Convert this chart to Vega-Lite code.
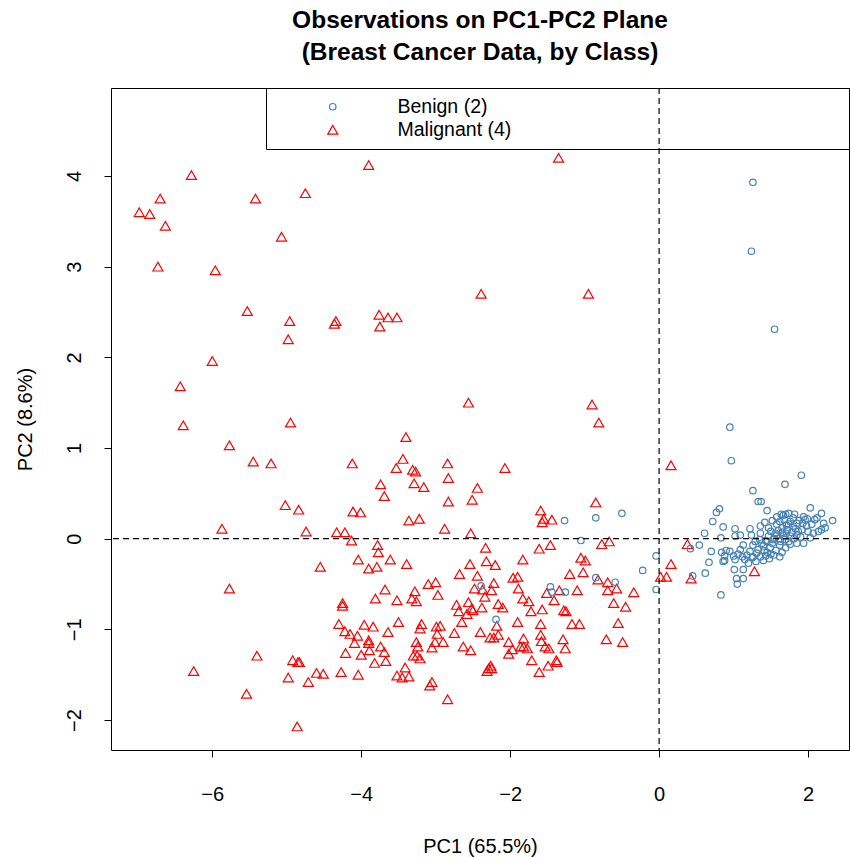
{
"$schema": "https://vega.github.io/schema/vega-lite/v6.json",
"autosize": {"type": "none"},
"width": 738, "height": 662,
"padding": {"left": 111, "top": 88, "right": 1, "bottom": 107},
"background": "white",
"config": {
 "font": "Liberation Sans",
 "view": {"stroke": "black", "strokeWidth": 1},
 "axis": {"grid": false, "domain": false, "tickColor": "black", "tickSize": 7, "labelColor": "black", "labelFontSize": 20, "labelFont": "Liberation Sans", "titleFont": "Liberation Sans", "titleFontSize": 20, "titleFontWeight": "normal", "titleColor": "black", "format": "d"},
 "legend": {"orient": "none", "legendX": 155, "legendY": 0, "fillColor": "transparent", "strokeColor": "black", "padding": 9, "labelFontSize": 19.5, "labelFont": "Liberation Sans", "labelColor": "black", "symbolOffset": 48, "labelOffset": 55, "labelLimit": 2000, "rowPadding": 2, "symbolStrokeWidth": 1.2}
},
"title": {"text": ["Observations on PC1-PC2 Plane", "(Breast Cancer Data, by Class)"], "fontSize": 24.5, "font": "Liberation Sans", "fontWeight": "bold", "anchor": "middle", "offset": 22, "lineHeight": 32, "color": "black"},
"layer": [
 {
  "data": {"values": [
{"pc1":-3.90,"pc2":4.12,"cls":"Malignant (4)"},
{"pc1":-6.28,"pc2":4.01,"cls":"Malignant (4)"},
{"pc1":-6.70,"pc2":3.75,"cls":"Malignant (4)"},
{"pc1":-5.42,"pc2":3.75,"cls":"Malignant (4)"},
{"pc1":-4.75,"pc2":3.81,"cls":"Malignant (4)"},
{"pc1":-6.98,"pc2":3.60,"cls":"Malignant (4)"},
{"pc1":-6.84,"pc2":3.58,"cls":"Malignant (4)"},
{"pc1":-6.63,"pc2":3.45,"cls":"Malignant (4)"},
{"pc1":-5.07,"pc2":3.33,"cls":"Malignant (4)"},
{"pc1":-6.73,"pc2":3.00,"cls":"Malignant (4)"},
{"pc1":-5.96,"pc2":2.96,"cls":"Malignant (4)"},
{"pc1":-5.53,"pc2":2.51,"cls":"Malignant (4)"},
{"pc1":-4.96,"pc2":2.40,"cls":"Malignant (4)"},
{"pc1":-4.98,"pc2":2.20,"cls":"Malignant (4)"},
{"pc1":-4.34,"pc2":2.40,"cls":"Malignant (4)"},
{"pc1":-4.36,"pc2":2.37,"cls":"Malignant (4)"},
{"pc1":-3.76,"pc2":2.47,"cls":"Malignant (4)"},
{"pc1":-3.64,"pc2":2.44,"cls":"Malignant (4)"},
{"pc1":-3.52,"pc2":2.44,"cls":"Malignant (4)"},
{"pc1":-3.75,"pc2":2.34,"cls":"Malignant (4)"},
{"pc1":-6.00,"pc2":1.96,"cls":"Malignant (4)"},
{"pc1":-6.43,"pc2":1.68,"cls":"Malignant (4)"},
{"pc1":-6.39,"pc2":1.25,"cls":"Malignant (4)"},
{"pc1":-4.95,"pc2":1.28,"cls":"Malignant (4)"},
{"pc1":-5.77,"pc2":1.03,"cls":"Malignant (4)"},
{"pc1":-3.40,"pc2":1.12,"cls":"Malignant (4)"},
{"pc1":-1.35,"pc2":4.20,"cls":"Malignant (4)"},
{"pc1":-2.39,"pc2":2.70,"cls":"Malignant (4)"},
{"pc1":-0.95,"pc2":2.70,"cls":"Malignant (4)"},
{"pc1":-2.56,"pc2":1.50,"cls":"Malignant (4)"},
{"pc1":-0.90,"pc2":1.48,"cls":"Malignant (4)"},
{"pc1":-0.81,"pc2":1.28,"cls":"Malignant (4)"},
{"pc1":-5.45,"pc2":0.85,"cls":"Malignant (4)"},
{"pc1":-5.21,"pc2":0.83,"cls":"Malignant (4)"},
{"pc1":-5.02,"pc2":0.37,"cls":"Malignant (4)"},
{"pc1":-4.84,"pc2":0.32,"cls":"Malignant (4)"},
{"pc1":-5.87,"pc2":0.11,"cls":"Malignant (4)"},
{"pc1":-4.74,"pc2":0.08,"cls":"Malignant (4)"},
{"pc1":-5.77,"pc2":-0.55,"cls":"Malignant (4)"},
{"pc1":-5.40,"pc2":-1.29,"cls":"Malignant (4)"},
{"pc1":-6.25,"pc2":-1.46,"cls":"Malignant (4)"},
{"pc1":-4.92,"pc2":-1.34,"cls":"Malignant (4)"},
{"pc1":-4.85,"pc2":-1.36,"cls":"Malignant (4)"},
{"pc1":-4.83,"pc2":-1.36,"cls":"Malignant (4)"},
{"pc1":-4.98,"pc2":-1.53,"cls":"Malignant (4)"},
{"pc1":-4.71,"pc2":-1.58,"cls":"Malignant (4)"},
{"pc1":-5.54,"pc2":-1.71,"cls":"Malignant (4)"},
{"pc1":-4.86,"pc2":-2.07,"cls":"Malignant (4)"},
{"pc1":-4.12,"pc2":0.83,"cls":"Malignant (4)"},
{"pc1":-3.44,"pc2":0.88,"cls":"Malignant (4)"},
{"pc1":-3.53,"pc2":0.78,"cls":"Malignant (4)"},
{"pc1":-3.31,"pc2":0.76,"cls":"Malignant (4)"},
{"pc1":-3.27,"pc2":0.74,"cls":"Malignant (4)"},
{"pc1":-2.84,"pc2":0.83,"cls":"Malignant (4)"},
{"pc1":-2.83,"pc2":0.67,"cls":"Malignant (4)"},
{"pc1":-3.74,"pc2":0.60,"cls":"Malignant (4)"},
{"pc1":-3.29,"pc2":0.61,"cls":"Malignant (4)"},
{"pc1":-3.16,"pc2":0.57,"cls":"Malignant (4)"},
{"pc1":-2.44,"pc2":0.56,"cls":"Malignant (4)"},
{"pc1":-3.69,"pc2":0.47,"cls":"Malignant (4)"},
{"pc1":-2.51,"pc2":0.43,"cls":"Malignant (4)"},
{"pc1":-2.83,"pc2":0.41,"cls":"Malignant (4)"},
{"pc1":-4.11,"pc2":0.30,"cls":"Malignant (4)"},
{"pc1":-4.01,"pc2":0.29,"cls":"Malignant (4)"},
{"pc1":-3.36,"pc2":0.20,"cls":"Malignant (4)"},
{"pc1":-3.22,"pc2":0.22,"cls":"Malignant (4)"},
{"pc1":-2.88,"pc2":0.11,"cls":"Malignant (4)"},
{"pc1":-4.33,"pc2":0.07,"cls":"Malignant (4)"},
{"pc1":-4.22,"pc2":0.07,"cls":"Malignant (4)"},
{"pc1":-2.53,"pc2":0.06,"cls":"Malignant (4)"},
{"pc1":-4.13,"pc2":-0.02,"cls":"Malignant (4)"},
{"pc1":-3.78,"pc2":-0.07,"cls":"Malignant (4)"},
{"pc1":-3.77,"pc2":-0.15,"cls":"Malignant (4)"},
{"pc1":-2.33,"pc2":-0.10,"cls":"Malignant (4)"},
{"pc1":-4.04,"pc2":-0.23,"cls":"Malignant (4)"},
{"pc1":-3.61,"pc2":-0.23,"cls":"Malignant (4)"},
{"pc1":-2.32,"pc2":-0.25,"cls":"Malignant (4)"},
{"pc1":-4.55,"pc2":-0.31,"cls":"Malignant (4)"},
{"pc1":-3.90,"pc2":-0.33,"cls":"Malignant (4)"},
{"pc1":-3.79,"pc2":-0.31,"cls":"Malignant (4)"},
{"pc1":-3.39,"pc2":-0.28,"cls":"Malignant (4)"},
{"pc1":-2.54,"pc2":-0.28,"cls":"Malignant (4)"},
{"pc1":-2.20,"pc2":-0.29,"cls":"Malignant (4)"},
{"pc1":-2.68,"pc2":-0.39,"cls":"Malignant (4)"},
{"pc1":-2.44,"pc2":-0.41,"cls":"Malignant (4)"},
{"pc1":-3.10,"pc2":-0.50,"cls":"Malignant (4)"},
{"pc1":-3.00,"pc2":-0.48,"cls":"Malignant (4)"},
{"pc1":-2.22,"pc2":-0.49,"cls":"Malignant (4)"},
{"pc1":-3.68,"pc2":-0.56,"cls":"Malignant (4)"},
{"pc1":-3.28,"pc2":-0.58,"cls":"Malignant (4)"},
{"pc1":-2.48,"pc2":-0.55,"cls":"Malignant (4)"},
{"pc1":-2.37,"pc2":-0.56,"cls":"Malignant (4)"},
{"pc1":-2.25,"pc2":-0.57,"cls":"Malignant (4)"},
{"pc1":-2.97,"pc2":-0.62,"cls":"Malignant (4)"},
{"pc1":-4.25,"pc2":-0.71,"cls":"Malignant (4)"},
{"pc1":-4.25,"pc2":-0.74,"cls":"Malignant (4)"},
{"pc1":-3.81,"pc2":-0.66,"cls":"Malignant (4)"},
{"pc1":-3.52,"pc2":-0.68,"cls":"Malignant (4)"},
{"pc1":-3.32,"pc2":-0.66,"cls":"Malignant (4)"},
{"pc1":-3.26,"pc2":-0.69,"cls":"Malignant (4)"},
{"pc1":-2.72,"pc2":-0.73,"cls":"Malignant (4)"},
{"pc1":-2.56,"pc2":-0.70,"cls":"Malignant (4)"},
{"pc1":-2.34,"pc2":-0.64,"cls":"Malignant (4)"},
{"pc1":-2.69,"pc2":-0.80,"cls":"Malignant (4)"},
{"pc1":-2.52,"pc2":-0.77,"cls":"Malignant (4)"},
{"pc1":-2.50,"pc2":-0.79,"cls":"Malignant (4)"},
{"pc1":-2.38,"pc2":-0.76,"cls":"Malignant (4)"},
{"pc1":-2.58,"pc2":-0.83,"cls":"Malignant (4)"},
{"pc1":-2.16,"pc2":-0.72,"cls":"Malignant (4)"},
{"pc1":-2.65,"pc2":-0.92,"cls":"Malignant (4)"},
{"pc1":-4.30,"pc2":-0.94,"cls":"Malignant (4)"},
{"pc1":-3.96,"pc2":-0.95,"cls":"Malignant (4)"},
{"pc1":-3.84,"pc2":-0.97,"cls":"Malignant (4)"},
{"pc1":-3.50,"pc2":-0.92,"cls":"Malignant (4)"},
{"pc1":-3.19,"pc2":-0.94,"cls":"Malignant (4)"},
{"pc1":-3.21,"pc2":-0.99,"cls":"Malignant (4)"},
{"pc1":-2.99,"pc2":-0.97,"cls":"Malignant (4)"},
{"pc1":-2.94,"pc2":-0.96,"cls":"Malignant (4)"},
{"pc1":-2.18,"pc2":-0.96,"cls":"Malignant (4)"},
{"pc1":-4.22,"pc2":-1.02,"cls":"Malignant (4)"},
{"pc1":-4.15,"pc2":-1.05,"cls":"Malignant (4)"},
{"pc1":-4.05,"pc2":-1.07,"cls":"Malignant (4)"},
{"pc1":-3.64,"pc2":-1.03,"cls":"Malignant (4)"},
{"pc1":-2.98,"pc2":-1.05,"cls":"Malignant (4)"},
{"pc1":-2.75,"pc2":-1.04,"cls":"Malignant (4)"},
{"pc1":-2.40,"pc2":-1.03,"cls":"Malignant (4)"},
{"pc1":-2.27,"pc2":-1.09,"cls":"Malignant (4)"},
{"pc1":-2.22,"pc2":-1.09,"cls":"Malignant (4)"},
{"pc1":-2.16,"pc2":-1.06,"cls":"Malignant (4)"},
{"pc1":-3.90,"pc2":-1.12,"cls":"Malignant (4)"},
{"pc1":-3.90,"pc2":-1.15,"cls":"Malignant (4)"},
{"pc1":-4.09,"pc2":-1.15,"cls":"Malignant (4)"},
{"pc1":-3.26,"pc2":-1.14,"cls":"Malignant (4)"},
{"pc1":-2.90,"pc2":-1.14,"cls":"Malignant (4)"},
{"pc1":-3.01,"pc2":-1.14,"cls":"Malignant (4)"},
{"pc1":-3.74,"pc2":-1.19,"cls":"Malignant (4)"},
{"pc1":-3.89,"pc2":-1.23,"cls":"Malignant (4)"},
{"pc1":-3.24,"pc2":-1.19,"cls":"Malignant (4)"},
{"pc1":-3.05,"pc2":-1.20,"cls":"Malignant (4)"},
{"pc1":-2.63,"pc2":-1.19,"cls":"Malignant (4)"},
{"pc1":-2.53,"pc2":-1.23,"cls":"Malignant (4)"},
{"pc1":-3.69,"pc2":-1.25,"cls":"Malignant (4)"},
{"pc1":-4.21,"pc2":-1.26,"cls":"Malignant (4)"},
{"pc1":-4.00,"pc2":-1.28,"cls":"Malignant (4)"},
{"pc1":-3.30,"pc2":-1.29,"cls":"Malignant (4)"},
{"pc1":-3.25,"pc2":-1.29,"cls":"Malignant (4)"},
{"pc1":-3.21,"pc2":-1.32,"cls":"Malignant (4)"},
{"pc1":-3.67,"pc2":-1.35,"cls":"Malignant (4)"},
{"pc1":-3.82,"pc2":-1.37,"cls":"Malignant (4)"},
{"pc1":-3.41,"pc2":-1.42,"cls":"Malignant (4)"},
{"pc1":-2.26,"pc2":-1.40,"cls":"Malignant (4)"},
{"pc1":-2.29,"pc2":-1.43,"cls":"Malignant (4)"},
{"pc1":-2.31,"pc2":-1.46,"cls":"Malignant (4)"},
{"pc1":-2.25,"pc2":-1.43,"cls":"Malignant (4)"},
{"pc1":-4.60,"pc2":-1.48,"cls":"Malignant (4)"},
{"pc1":-4.51,"pc2":-1.49,"cls":"Malignant (4)"},
{"pc1":-4.27,"pc2":-1.47,"cls":"Malignant (4)"},
{"pc1":-4.04,"pc2":-1.50,"cls":"Malignant (4)"},
{"pc1":-3.52,"pc2":-1.51,"cls":"Malignant (4)"},
{"pc1":-3.45,"pc2":-1.53,"cls":"Malignant (4)"},
{"pc1":-3.36,"pc2":-1.52,"cls":"Malignant (4)"},
{"pc1":-3.05,"pc2":-1.58,"cls":"Malignant (4)"},
{"pc1":-3.08,"pc2":-1.62,"cls":"Malignant (4)"},
{"pc1":-2.84,"pc2":-1.77,"cls":"Malignant (4)"},
{"pc1":-2.07,"pc2":0.78,"cls":"Malignant (4)"},
{"pc1":-0.85,"pc2":0.40,"cls":"Malignant (4)"},
{"pc1":-1.59,"pc2":0.31,"cls":"Malignant (4)"},
{"pc1":-1.55,"pc2":0.22,"cls":"Malignant (4)"},
{"pc1":-1.57,"pc2":0.18,"cls":"Malignant (4)"},
{"pc1":-1.44,"pc2":0.21,"cls":"Malignant (4)"},
{"pc1":-0.77,"pc2":-0.06,"cls":"Malignant (4)"},
{"pc1":-0.67,"pc2":-0.03,"cls":"Malignant (4)"},
{"pc1":-1.61,"pc2":-0.11,"cls":"Malignant (4)"},
{"pc1":-1.46,"pc2":-0.07,"cls":"Malignant (4)"},
{"pc1":-1.83,"pc2":-0.23,"cls":"Malignant (4)"},
{"pc1":-1.05,"pc2":-0.21,"cls":"Malignant (4)"},
{"pc1":-0.99,"pc2":-0.24,"cls":"Malignant (4)"},
{"pc1":-1.20,"pc2":-0.39,"cls":"Malignant (4)"},
{"pc1":-1.02,"pc2":-0.37,"cls":"Malignant (4)"},
{"pc1":-1.96,"pc2":-0.43,"cls":"Malignant (4)"},
{"pc1":-1.90,"pc2":-0.42,"cls":"Malignant (4)"},
{"pc1":-0.82,"pc2":-0.45,"cls":"Malignant (4)"},
{"pc1":-0.69,"pc2":-0.48,"cls":"Malignant (4)"},
{"pc1":-1.89,"pc2":-0.55,"cls":"Malignant (4)"},
{"pc1":-1.34,"pc2":-0.57,"cls":"Malignant (4)"},
{"pc1":-1.10,"pc2":-0.57,"cls":"Malignant (4)"},
{"pc1":-0.69,"pc2":-0.57,"cls":"Malignant (4)"},
{"pc1":-0.57,"pc2":-0.55,"cls":"Malignant (4)"},
{"pc1":-0.34,"pc2":-0.59,"cls":"Malignant (4)"},
{"pc1":-1.51,"pc2":-0.60,"cls":"Malignant (4)"},
{"pc1":-2.10,"pc2":-0.76,"cls":"Malignant (4)"},
{"pc1":-1.83,"pc2":-0.66,"cls":"Malignant (4)"},
{"pc1":-1.75,"pc2":-0.69,"cls":"Malignant (4)"},
{"pc1":-1.41,"pc2":-0.68,"cls":"Malignant (4)"},
{"pc1":-1.72,"pc2":-0.80,"cls":"Malignant (4)"},
{"pc1":-1.57,"pc2":-0.78,"cls":"Malignant (4)"},
{"pc1":-1.28,"pc2":-0.79,"cls":"Malignant (4)"},
{"pc1":-1.25,"pc2":-0.80,"cls":"Malignant (4)"},
{"pc1":-0.61,"pc2":-0.71,"cls":"Malignant (4)"},
{"pc1":-0.45,"pc2":-0.75,"cls":"Malignant (4)"},
{"pc1":-1.90,"pc2":-0.92,"cls":"Malignant (4)"},
{"pc1":-1.59,"pc2":-0.94,"cls":"Malignant (4)"},
{"pc1":-1.17,"pc2":-0.94,"cls":"Malignant (4)"},
{"pc1":-1.07,"pc2":-0.94,"cls":"Malignant (4)"},
{"pc1":-0.55,"pc2":-0.93,"cls":"Malignant (4)"},
{"pc1":-2.02,"pc2":-1.14,"cls":"Malignant (4)"},
{"pc1":-1.82,"pc2":-1.10,"cls":"Malignant (4)"},
{"pc1":-1.59,"pc2":-1.06,"cls":"Malignant (4)"},
{"pc1":-1.58,"pc2":-1.13,"cls":"Malignant (4)"},
{"pc1":-1.29,"pc2":-1.11,"cls":"Malignant (4)"},
{"pc1":-0.71,"pc2":-1.11,"cls":"Malignant (4)"},
{"pc1":-0.49,"pc2":-1.14,"cls":"Malignant (4)"},
{"pc1":-1.86,"pc2":-1.19,"cls":"Malignant (4)"},
{"pc1":-1.82,"pc2":-1.19,"cls":"Malignant (4)"},
{"pc1":-1.77,"pc2":-1.21,"cls":"Malignant (4)"},
{"pc1":-1.53,"pc2":-1.19,"cls":"Malignant (4)"},
{"pc1":-1.48,"pc2":-1.21,"cls":"Malignant (4)"},
{"pc1":-1.26,"pc2":-1.21,"cls":"Malignant (4)"},
{"pc1":-1.97,"pc2":-1.22,"cls":"Malignant (4)"},
{"pc1":-2.02,"pc2":-1.27,"cls":"Malignant (4)"},
{"pc1":-1.71,"pc2":-1.34,"cls":"Malignant (4)"},
{"pc1":-1.38,"pc2":-1.34,"cls":"Malignant (4)"},
{"pc1":-1.37,"pc2":-1.36,"cls":"Malignant (4)"},
{"pc1":-1.49,"pc2":-1.40,"cls":"Malignant (4)"},
{"pc1":-1.61,"pc2":-1.47,"cls":"Malignant (4)"},
{"pc1":0.16,"pc2":0.81,"cls":"Malignant (4)"},
{"pc1":0.38,"pc2":-0.06,"cls":"Malignant (4)"},
{"pc1":0.16,"pc2":-0.28,"cls":"Malignant (4)"},
{"pc1":1.28,"pc2":-0.36,"cls":"Malignant (4)"},
{"pc1":0.02,"pc2":-0.42,"cls":"Malignant (4)"},
{"pc1":0.10,"pc2":-0.42,"cls":"Malignant (4)"},
{"pc1":0.43,"pc2":-0.44,"cls":"Malignant (4)"},
{"pc1":1.26,"pc2":3.93,"cls":"Benign (2)"},
{"pc1":1.24,"pc2":3.17,"cls":"Benign (2)"},
{"pc1":1.55,"pc2":2.31,"cls":"Benign (2)"},
{"pc1":0.95,"pc2":1.23,"cls":"Benign (2)"},
{"pc1":0.97,"pc2":0.86,"cls":"Benign (2)"},
{"pc1":1.91,"pc2":0.70,"cls":"Benign (2)"},
{"pc1":1.69,"pc2":0.60,"cls":"Benign (2)"},
{"pc1":1.26,"pc2":0.53,"cls":"Benign (2)"},
{"pc1":1.33,"pc2":0.41,"cls":"Benign (2)"},
{"pc1":1.37,"pc2":0.41,"cls":"Benign (2)"},
{"pc1":1.45,"pc2":0.31,"cls":"Benign (2)"},
{"pc1":2.03,"pc2":0.34,"cls":"Benign (2)"},
{"pc1":2.18,"pc2":0.28,"cls":"Benign (2)"},
{"pc1":2.33,"pc2":0.20,"cls":"Benign (2)"},
{"pc1":0.81,"pc2":0.33,"cls":"Benign (2)"},
{"pc1":0.77,"pc2":0.29,"cls":"Benign (2)"},
{"pc1":0.72,"pc2":0.19,"cls":"Benign (2)"},
{"pc1":0.86,"pc2":0.13,"cls":"Benign (2)"},
{"pc1":0.61,"pc2":0.06,"cls":"Benign (2)"},
{"pc1":0.83,"pc2":0.01,"cls":"Benign (2)"},
{"pc1":1.02,"pc2":0.11,"cls":"Benign (2)"},
{"pc1":1.22,"pc2":0.11,"cls":"Benign (2)"},
{"pc1":0.54,"pc2":-0.07,"cls":"Benign (2)"},
{"pc1":0.42,"pc2":-0.11,"cls":"Benign (2)"},
{"pc1":0.70,"pc2":-0.14,"cls":"Benign (2)"},
{"pc1":-0.04,"pc2":-0.19,"cls":"Benign (2)"},
{"pc1":-0.22,"pc2":-0.35,"cls":"Benign (2)"},
{"pc1":0.67,"pc2":-0.26,"cls":"Benign (2)"},
{"pc1":0.88,"pc2":-0.24,"cls":"Benign (2)"},
{"pc1":0.62,"pc2":-0.38,"cls":"Benign (2)"},
{"pc1":0.45,"pc2":-0.41,"cls":"Benign (2)"},
{"pc1":1.04,"pc2":-0.44,"cls":"Benign (2)"},
{"pc1":1.13,"pc2":-0.44,"cls":"Benign (2)"},
{"pc1":1.26,"pc2":-0.20,"cls":"Benign (2)"},
{"pc1":0.83,"pc2":-0.62,"cls":"Benign (2)"},
{"pc1":1.05,"pc2":-0.50,"cls":"Benign (2)"},
{"pc1":-1.27,"pc2":0.20,"cls":"Benign (2)"},
{"pc1":-0.85,"pc2":0.23,"cls":"Benign (2)"},
{"pc1":-0.50,"pc2":0.28,"cls":"Benign (2)"},
{"pc1":-1.05,"pc2":-0.02,"cls":"Benign (2)"},
{"pc1":-0.85,"pc2":-0.43,"cls":"Benign (2)"},
{"pc1":-0.59,"pc2":-0.48,"cls":"Benign (2)"},
{"pc1":-1.46,"pc2":-0.53,"cls":"Benign (2)"},
{"pc1":-1.44,"pc2":-0.59,"cls":"Benign (2)"},
{"pc1":-1.26,"pc2":-0.59,"cls":"Benign (2)"},
{"pc1":-0.04,"pc2":-0.56,"cls":"Benign (2)"},
{"pc1":-2.39,"pc2":-0.52,"cls":"Benign (2)"},
{"pc1":-2.19,"pc2":-0.89,"cls":"Benign (2)"},
{"pc1":0.86,"pc2":-0.25,"cls":"Benign (2)"},
{"pc1":0.88,"pc2":-0.19,"cls":"Benign (2)"},
{"pc1":0.90,"pc2":-0.13,"cls":"Benign (2)"},
{"pc1":0.84,"pc2":-0.15,"cls":"Benign (2)"},
{"pc1":1.02,"pc2":0.03,"cls":"Benign (2)"},
{"pc1":1.09,"pc2":0.04,"cls":"Benign (2)"},
{"pc1":1.00,"pc2":-0.19,"cls":"Benign (2)"},
{"pc1":1.02,"pc2":-0.23,"cls":"Benign (2)"},
{"pc1":0.95,"pc2":-0.14,"cls":"Benign (2)"},
{"pc1":1.13,"pc2":-0.07,"cls":"Benign (2)"},
{"pc1":1.09,"pc2":-0.12,"cls":"Benign (2)"},
{"pc1":1.06,"pc2":-0.17,"cls":"Benign (2)"},
{"pc1":1.12,"pc2":-0.20,"cls":"Benign (2)"},
{"pc1":1.18,"pc2":-0.18,"cls":"Benign (2)"},
{"pc1":1.15,"pc2":-0.23,"cls":"Benign (2)"},
{"pc1":1.22,"pc2":-0.14,"cls":"Benign (2)"},
{"pc1":1.25,"pc2":-0.21,"cls":"Benign (2)"},
{"pc1":1.26,"pc2":-0.07,"cls":"Benign (2)"},
{"pc1":1.24,"pc2":0.04,"cls":"Benign (2)"},
{"pc1":1.01,"pc2":-0.34,"cls":"Benign (2)"},
{"pc1":1.13,"pc2":-0.34,"cls":"Benign (2)"},
{"pc1":1.62,"pc2":-0.20,"cls":"Benign (2)"},
{"pc1":1.50,"pc2":-0.17,"cls":"Benign (2)"},
{"pc1":1.36,"pc2":0.06,"cls":"Benign (2)"},
{"pc1":1.47,"pc2":0.12,"cls":"Benign (2)"},
{"pc1":1.67,"pc2":0.26,"cls":"Benign (2)"},
{"pc1":1.70,"pc2":0.27,"cls":"Benign (2)"},
{"pc1":1.94,"pc2":0.24,"cls":"Benign (2)"},
{"pc1":1.96,"pc2":0.21,"cls":"Benign (2)"},
{"pc1":2.09,"pc2":0.21,"cls":"Benign (2)"},
{"pc1":2.12,"pc2":0.23,"cls":"Benign (2)"},
{"pc1":2.21,"pc2":0.17,"cls":"Benign (2)"},
{"pc1":2.23,"pc2":0.12,"cls":"Benign (2)"},
{"pc1":2.18,"pc2":0.10,"cls":"Benign (2)"},
{"pc1":2.07,"pc2":0.06,"cls":"Benign (2)"},
{"pc1":2.14,"pc2":0.08,"cls":"Benign (2)"},
{"pc1":2.03,"pc2":0.01,"cls":"Benign (2)"},
{"pc1":1.94,"pc2":-0.05,"cls":"Benign (2)"},
{"pc1":1.85,"pc2":-0.05,"cls":"Benign (2)"},
{"pc1":1.76,"pc2":-0.06,"cls":"Benign (2)"},
{"pc1":1.62,"pc2":-0.07,"cls":"Benign (2)"},
{"pc1":1.49,"pc2":-0.10,"cls":"Benign (2)"},
{"pc1":1.41,"pc2":-0.13,"cls":"Benign (2)"},
{"pc1":1.33,"pc2":-0.12,"cls":"Benign (2)"},
{"pc1":1.36,"pc2":-0.20,"cls":"Benign (2)"},
{"pc1":1.45,"pc2":-0.15,"cls":"Benign (2)"},
{"pc1":1.61,"pc2":0.00,"cls":"Benign (2)"},
{"pc1":1.71,"pc2":0.06,"cls":"Benign (2)"},
{"pc1":1.80,"pc2":0.14,"cls":"Benign (2)"},
{"pc1":1.85,"pc2":0.17,"cls":"Benign (2)"},
{"pc1":1.92,"pc2":0.10,"cls":"Benign (2)"},
{"pc1":1.98,"pc2":0.14,"cls":"Benign (2)"},
{"pc1":1.56,"pc2":0.06,"cls":"Benign (2)"},
{"pc1":1.53,"pc2":-0.01,"cls":"Benign (2)"},
{"pc1":1.45,"pc2":-0.03,"cls":"Benign (2)"},
{"pc1":1.38,"pc2":-0.05,"cls":"Benign (2)"},
{"pc1":1.76,"pc2":0.03,"cls":"Benign (2)"},
{"pc1":1.67,"pc2":0.03,"cls":"Benign (2)"},
{"pc1":1.85,"pc2":0.04,"cls":"Benign (2)"},
{"pc1":1.76,"pc2":0.19,"cls":"Benign (2)"},
{"pc1":1.71,"pc2":0.15,"cls":"Benign (2)"},
{"pc1":1.65,"pc2":0.12,"cls":"Benign (2)"},
{"pc1":1.80,"pc2":0.23,"cls":"Benign (2)"},
{"pc1":1.99,"pc2":0.22,"cls":"Benign (2)"},
{"pc1":1.40,"pc2":-0.08,"cls":"Benign (2)"},
{"pc1":1.43,"pc2":-0.02,"cls":"Benign (2)"},
{"pc1":1.47,"pc2":0.03,"cls":"Benign (2)"},
{"pc1":1.50,"pc2":0.08,"cls":"Benign (2)"},
{"pc1":1.52,"pc2":-0.05,"cls":"Benign (2)"},
{"pc1":1.55,"pc2":0.00,"cls":"Benign (2)"},
{"pc1":1.58,"pc2":0.04,"cls":"Benign (2)"},
{"pc1":1.60,"pc2":0.09,"cls":"Benign (2)"},
{"pc1":1.63,"pc2":-0.03,"cls":"Benign (2)"},
{"pc1":1.66,"pc2":0.07,"cls":"Benign (2)"},
{"pc1":1.69,"pc2":-0.01,"cls":"Benign (2)"},
{"pc1":1.72,"pc2":0.10,"cls":"Benign (2)"},
{"pc1":1.74,"pc2":-0.03,"cls":"Benign (2)"},
{"pc1":1.78,"pc2":0.07,"cls":"Benign (2)"},
{"pc1":1.81,"pc2":0.00,"cls":"Benign (2)"},
{"pc1":1.83,"pc2":0.11,"cls":"Benign (2)"},
{"pc1":1.87,"pc2":0.08,"cls":"Benign (2)"},
{"pc1":1.90,"pc2":0.02,"cls":"Benign (2)"},
{"pc1":1.57,"pc2":-0.13,"cls":"Benign (2)"},
{"pc1":1.65,"pc2":-0.15,"cls":"Benign (2)"},
{"pc1":1.70,"pc2":-0.10,"cls":"Benign (2)"},
{"pc1":1.43,"pc2":-0.19,"cls":"Benign (2)"},
{"pc1":1.31,"pc2":-0.16,"cls":"Benign (2)"},
{"pc1":1.29,"pc2":-0.03,"cls":"Benign (2)"},
{"pc1":1.35,"pc2":-0.01,"cls":"Benign (2)"},
{"pc1":1.58,"pc2":0.16,"cls":"Benign (2)"},
{"pc1":1.62,"pc2":0.19,"cls":"Benign (2)"},
{"pc1":1.68,"pc2":0.21,"cls":"Benign (2)"},
{"pc1":1.74,"pc2":0.16,"cls":"Benign (2)"},
{"pc1":1.88,"pc2":0.20,"cls":"Benign (2)"},
{"pc1":1.93,"pc2":0.17,"cls":"Benign (2)"},
{"pc1":2.00,"pc2":0.08,"cls":"Benign (2)"},
{"pc1":2.05,"pc2":0.16,"cls":"Benign (2)"},
{"pc1":1.54,"pc2":-0.18,"cls":"Benign (2)"},
{"pc1":1.48,"pc2":-0.22,"cls":"Benign (2)"},
{"pc1":1.40,"pc2":-0.24,"cls":"Benign (2)"},
{"pc1":1.30,"pc2":-0.25,"cls":"Benign (2)"},
{"pc1":1.20,"pc2":-0.27,"cls":"Benign (2)"},
{"pc1":1.36,"pc2":0.14,"cls":"Benign (2)"},
{"pc1":1.42,"pc2":0.18,"cls":"Benign (2)"},
{"pc1":1.52,"pc2":0.20,"cls":"Benign (2)"},
{"pc1":1.58,"pc2":0.24,"cls":"Benign (2)"},
{"pc1":1.64,"pc2":0.27,"cls":"Benign (2)"},
{"pc1":1.74,"pc2":0.28,"cls":"Benign (2)"},
{"pc1":1.82,"pc2":0.27,"cls":"Benign (2)"}
  ]},
  "mark": {"type": "point", "filled": false, "strokeWidth": 1.2, "opacity": 1},
  "encoding": {
   "x": {"field": "pc1", "type": "quantitative", "scale": {"domain": [-7.36, 2.55], "nice": false, "zero": false}, "axis": {"values": [-6, -4, -2, 0, 2], "title": "PC1 (65.5%)", "labelPadding": 27, "titlePadding": 32}},
   "y": {"field": "pc2", "type": "quantitative", "scale": {"domain": [-2.33, 4.97], "nice": false, "zero": false}, "axis": {"values": [-2, -1, 0, 1, 2, 3, 4], "title": "PC2 (8.6%)", "labelAngle": -90, "labelAlign": "center", "labelBaseline": "bottom", "labelPadding": 20, "titlePadding": 29}},
   "color": {"field": "cls", "type": "nominal", "scale": {"domain": ["Benign (2)", "Malignant (4)"], "range": ["#4682B4", "#FF0000"]}, "legend": {"title": null, "labelLimit": 2000, "labelExpr": "datum.label + '\u00a0\u00a0\u00a0\u00a0\u00a0\u00a0\u00a0\u00a0\u00a0\u00a0\u00a0\u00a0\u00a0\u00a0\u00a0\u00a0\u00a0\u00a0\u00a0\u00a0\u00a0\u00a0\u00a0\u00a0\u00a0\u00a0\u00a0\u00a0\u00a0\u00a0\u00a0\u00a0\u00a0\u00a0\u00a0\u00a0\u00a0\u00a0\u00a0\u00a0\u00a0\u00a0\u00a0\u00a0\u00a0\u00a0\u00a0\u00a0\u00a0\u00a0\u00a0\u00a0\u00a0\u00a0\u00a0\u00a0\u00a0\u00a0\u00a0\u00a0\u00a0\u200b'"}},
   "shape": {"field": "cls", "type": "nominal", "scale": {"domain": ["Benign (2)", "Malignant (4)"], "range": ["circle", "triangle-up"]}, "legend": {"title": null, "labelLimit": 2000, "labelExpr": "datum.label + '\u00a0\u00a0\u00a0\u00a0\u00a0\u00a0\u00a0\u00a0\u00a0\u00a0\u00a0\u00a0\u00a0\u00a0\u00a0\u00a0\u00a0\u00a0\u00a0\u00a0\u00a0\u00a0\u00a0\u00a0\u00a0\u00a0\u00a0\u00a0\u00a0\u00a0\u00a0\u00a0\u00a0\u00a0\u00a0\u00a0\u00a0\u00a0\u00a0\u00a0\u00a0\u00a0\u00a0\u00a0\u00a0\u00a0\u00a0\u00a0\u00a0\u00a0\u00a0\u00a0\u00a0\u00a0\u00a0\u00a0\u00a0\u00a0\u00a0\u00a0\u00a0\u200b'"}},
   "size": {"field": "cls", "type": "nominal", "scale": {"domain": ["Benign (2)", "Malignant (4)"], "range": [42, 100]}, "legend": {"title": null, "labelLimit": 2000, "labelExpr": "datum.label + '\u00a0\u00a0\u00a0\u00a0\u00a0\u00a0\u00a0\u00a0\u00a0\u00a0\u00a0\u00a0\u00a0\u00a0\u00a0\u00a0\u00a0\u00a0\u00a0\u00a0\u00a0\u00a0\u00a0\u00a0\u00a0\u00a0\u00a0\u00a0\u00a0\u00a0\u00a0\u00a0\u00a0\u00a0\u00a0\u00a0\u00a0\u00a0\u00a0\u00a0\u00a0\u00a0\u00a0\u00a0\u00a0\u00a0\u00a0\u00a0\u00a0\u00a0\u00a0\u00a0\u00a0\u00a0\u00a0\u00a0\u00a0\u00a0\u00a0\u00a0\u00a0\u200b'"}}
  }
 },
 {
  "data": {"values": [{"ref": 0}]},
  "mark": {"type": "rule", "color": "black", "strokeWidth": 1.2, "strokeDash": [6, 4]},
  "encoding": {"x": {"field": "ref", "type": "quantitative"}}
 },
 {
  "data": {"values": [{"ref": 0}]},
  "mark": {"type": "rule", "color": "black", "strokeWidth": 1.2, "strokeDash": [6, 4]},
  "encoding": {"y": {"field": "ref", "type": "quantitative"}}
 }
]
}
